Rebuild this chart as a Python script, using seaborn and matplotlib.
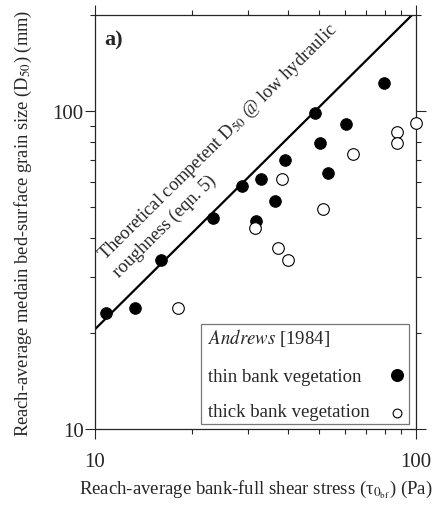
import numpy as np
import pandas as pd
import matplotlib.pyplot as plt
import seaborn as sns
from matplotlib.patches import Rectangle
from matplotlib.ticker import NullFormatter

# Andrews [1984] data
thin_tau = [10.8, 13.3, 16.0, 23.4, 28.8, 33.0, 31.8, 36.4, 39.1, 48.4, 50.2, 53.1, 60.4, 79.4]
thin_d50 = [23.1, 24.0, 34.0, 46.0, 58.1, 61.0, 45.2, 52.0, 70.3, 98.6, 79.3, 63.8, 91.2, 122.0]
thick_tau = [18.2, 31.5, 37.1, 39.8, 38.2, 51.2, 63.5, 87.1, 87.1, 100.0]
thick_d50 = [24.0, 43.0, 37.0, 34.0, 61.1, 49.1, 73.5, 85.8, 79.3, 91.6]

# theoretical competent D50 (eqn. 5): D50 = k * tau
k_theory = 2.06
tau_line = [10, 100]

sns.set_style("ticks")
plt.rcParams['font.family'] = ['Liberation Serif', 'DejaVu Serif']
plt.rcParams['mathtext.fontset'] = 'stix'

thin = pd.DataFrame({'tau': thin_tau, 'd50': thin_d50})
thick = pd.DataFrame({'tau': thick_tau, 'd50': thick_d50})
line = pd.DataFrame({'tau': tau_line, 'd50': [k_theory * t for t in tau_line]})

fig = plt.figure(figsize=(4.43, 5.06), dpi=100)
ax = fig.add_axes([0.2144, 0.150, 0.7246, 0.818])

sns.lineplot(data=line, x='tau', y='d50', color='black', linewidth=1.6, ax=ax)
sns.scatterplot(data=thin, x='tau', y='d50', color='black', edgecolor='black',
                s=70, ax=ax, zorder=3, clip_on=False)
sns.scatterplot(data=thick, x='tau', y='d50', facecolor='white', edgecolor='black',
                linewidth=0.8, s=70, ax=ax, zorder=3, clip_on=False)

ax.set_xscale('log')
ax.set_yscale('log')
ax.set_xlim(10, 100)
ax.set_ylim(10, 200)
ax.set_xticks([10, 100])
ax.set_xticklabels(['10', '100'])
ax.set_yticks([10, 100])
ax.set_yticklabels(['10', '100'])
ax.xaxis.set_minor_formatter(NullFormatter())
ax.yaxis.set_minor_formatter(NullFormatter())
ax.tick_params(which='both', direction='out', top=True, right=True,
               labeltop=False, labelright=False, labelsize=15, width=0.8)
ax.tick_params(which='major', length=7.2)
ax.tick_params(axis='x', which='major', pad=9)
ax.tick_params(axis='y', which='major', pad=1)
ax.tick_params(which='minor', length=3.6)
for s in ax.spines.values():
    s.set_linewidth(0.9)

ax.set_xlabel(r'Reach-average bank-full shear stress (τ$_{0_{\mathrm{bf}}}$) (Pa)',
              fontsize=13.5)
ax.set_ylabel(r'Reach-average medain bed-surface grain size (D$_{50}$) (mm)',
              fontsize=13.3)
ax.xaxis.set_label_coords(0.5, -0.118)
ax.yaxis.set_label_coords(-0.19, 0.5)

ax.text(0.03, 0.965, 'a)', transform=ax.transAxes, fontsize=16,
        fontweight='bold', va='top', ha='left')

ang = 44.7
ax.text(0.030, 0.410, r'Theoretical competent D$_{50}$ @ low hydraulic',
        transform=ax.transAxes, fontsize=13.3, rotation=ang,
        rotation_mode='anchor', ha='left', va='baseline')
ax.text(0.074, 0.368, 'roughness (eqn. 5)',
        transform=ax.transAxes, fontsize=13.3, rotation=ang,
        rotation_mode='anchor', ha='left', va='baseline')

# legend box drawn by hand so that text sits left and markers sit right
ax.add_patch(Rectangle((0.330, 0.012), 0.648, 0.242, transform=ax.transAxes,
                       facecolor='white', edgecolor='#777777', linewidth=0.9,
                       zorder=4))
ax.text(0.351, 0.209, r'$\it{Andrews}$ [1984]', transform=ax.transAxes,
        fontsize=13.5, ha='left', va='baseline', zorder=5)
ax.text(0.351, 0.117, 'thin bank vegetation', transform=ax.transAxes,
        fontsize=13.5, ha='left', va='baseline', zorder=5)
ax.text(0.351, 0.032, 'thick bank vegetation', transform=ax.transAxes,
        fontsize=13.5, ha='left', va='baseline', zorder=5)
ax.scatter([0.940], [0.130], s=70, color='black', transform=ax.transAxes,
           zorder=5, clip_on=False)
ax.scatter([0.940], [0.039], s=40, facecolor='white', edgecolor='black',
           linewidth=0.8, transform=ax.transAxes, zorder=5, clip_on=False)

fig.savefig('out.png', dpi=100)
